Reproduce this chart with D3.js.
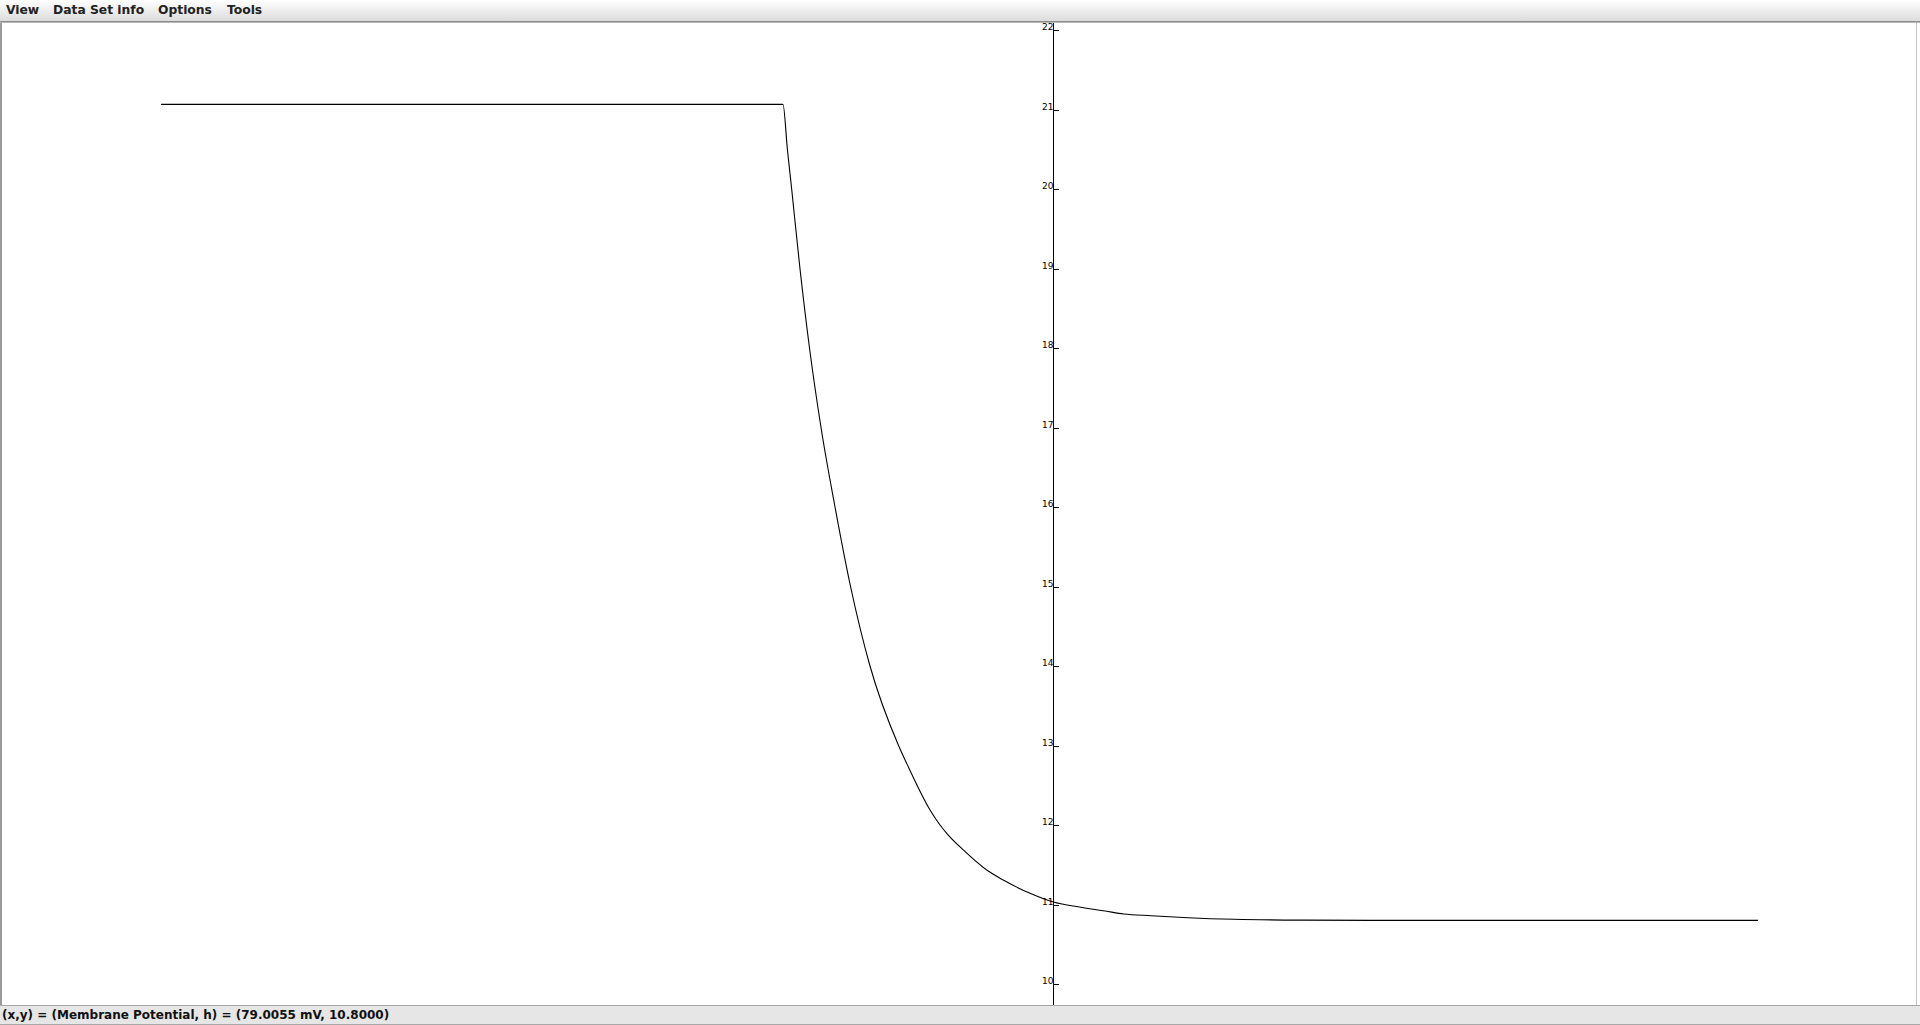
<!DOCTYPE html>
<html>
<head>
<meta charset="utf-8">
<script src="https://cdn.jsdelivr.net/npm/d3@7"></script>
<style>
  html, body { margin: 0; padding: 0; background: #ffffff; overflow: hidden; }
  svg { display: block; }
</style>
</head>
<body>
<svg id="chart" width="1920" height="1025"></svg>
<script>
// ---- data ----
const menuItems = ["View", "Data Set info", "Options", "Tools"];
const membranePotential = [-100, -30.28, -29.79, -29.31, -28.38, -27.31, -26.02, -24.45, -22.71, -20.53,
  -17.33, -16.24, -13.8, -12.68, -11.93, -10.07, -7.45, -5.59, -2.59, 0.02,
  2.76, 5.85, 7.91, 10.98, 15.13, 20.29, 28.02, 35.75, 79.0055];
const hValues = [21.065, 21.065, 20.5, 20, 19, 18, 17, 16, 15, 14,
  13, 12.733, 12.189, 12, 11.896, 11.686, 11.434, 11.308, 11.141, 11.031,
  10.972, 10.918, 10.881, 10.859, 10.834, 10.814, 10.803, 10.8, 10.8];
const yTicks = [10, 11, 12, 13, 14, 15, 16, 17, 18, 19, 20, 21, 22];
const statusText = "(x,y) = (Membrane Potential, h) = (79.0055 mV, 10.8000)";

const svg = d3.select("#chart");
const W = 1920, H = 1025;
const menuH = 21, statusTop = 1005;
const plot = { left: 1, right: 1917, top: 23, bottom: 1004 };

// ---- menu bar ----
const defs = svg.append("defs");
const grad = defs.append("linearGradient").attr("id", "menuGrad").attr("x1", 0).attr("y1", 0).attr("x2", 0).attr("y2", 1);
grad.append("stop").attr("offset", "0%").attr("stop-color", "#ffffff");
grad.append("stop").attr("offset", "100%").attr("stop-color", "#dcdcdc");
svg.append("rect").attr("x", 0).attr("y", 0).attr("width", W).attr("height", menuH).attr("fill", "url(#menuGrad)");
svg.append("rect").attr("x", 0).attr("y", menuH).attr("width", W).attr("height", 1).attr("fill", "#8c8c8c");
svg.append("rect").attr("x", 0).attr("y", menuH + 1).attr("width", W).attr("height", 1).attr("fill", "#b8b8b8");

const menuX = [6, 53, 158, 227];
svg.append("g").selectAll("text").data(menuItems).join("text")
  .attr("x", (d, i) => menuX[i]).attr("y", 14)
  .attr("font-family", "DejaVu Sans").attr("font-weight", "bold").attr("font-size", 12.3)
  .attr("fill", "#222").text(d => d);

// ---- plot area ----
svg.append("rect").attr("x", 0).attr("y", plot.top).attr("width", W).attr("height", statusTop - plot.top).attr("fill", "#ffffff");
svg.append("rect").attr("x", 0).attr("y", plot.top).attr("width", 2).attr("height", statusTop - plot.top).attr("fill", "#9a9a9a");
svg.append("rect").attr("x", plot.right - 1).attr("y", plot.top).attr("width", 1).attr("height", statusTop - plot.top).attr("fill", "#c4c4c4");

const x = d3.scaleLinear().domain([-100, 79.0055]).range([161, 1758]);
const y = d3.scaleLinear().domain([10, 22]).range([984, 30]);

// y axis at x = 0 mV
const axisX = Math.round(x(0)) + 0.5;
svg.append("line").attr("x1", axisX).attr("x2", axisX).attr("y1", plot.top).attr("y2", plot.bottom + 1)
  .attr("stroke", "#000").attr("stroke-width", 1).attr("shape-rendering", "crispEdges");

const yAxis = d3.axisLeft(y).tickValues(yTicks).tickSizeInner(-5).tickSizeOuter(0).tickPadding(0)
  .tickFormat(d3.format("d"));
const gy = svg.append("g").attr("transform", `translate(${axisX},0)`).call(yAxis);
gy.select(".domain").remove();
gy.selectAll(".tick line").attr("stroke", "#000").attr("shape-rendering", "crispEdges");
gy.selectAll(".tick text").attr("dy", "-0.05em").attr("x", 0)
  .attr("font-family", "DejaVu Sans").attr("font-size", 9).attr("fill", "#000");

// curve
const pts = membranePotential.map((v, i) => [v, hValues[i]]);
const line = d3.line().x(d => x(d[0])).y(d => y(d[1])).curve(d3.curveMonotoneX);
svg.append("path").datum(pts).attr("d", line)
  .attr("fill", "none").attr("stroke", "#000").attr("stroke-width", 1.1);

// ---- status bar ----
svg.append("rect").attr("x", 0).attr("y", statusTop).attr("width", W).attr("height", H - statusTop).attr("fill", "#e6e6e6");
svg.append("rect").attr("x", 0).attr("y", statusTop).attr("width", W).attr("height", 1).attr("fill", "#a8a8a8");
svg.append("rect").attr("x", 0).attr("y", H - 1).attr("width", W).attr("height", 1).attr("fill", "#a8a8a8");
svg.append("text").attr("x", 2).attr("y", 1019)
  .attr("font-family", "DejaVu Sans").attr("font-weight", "bold").attr("font-size", 12)
  .attr("fill", "#111").text(statusText);
</script>
</body>
</html>
